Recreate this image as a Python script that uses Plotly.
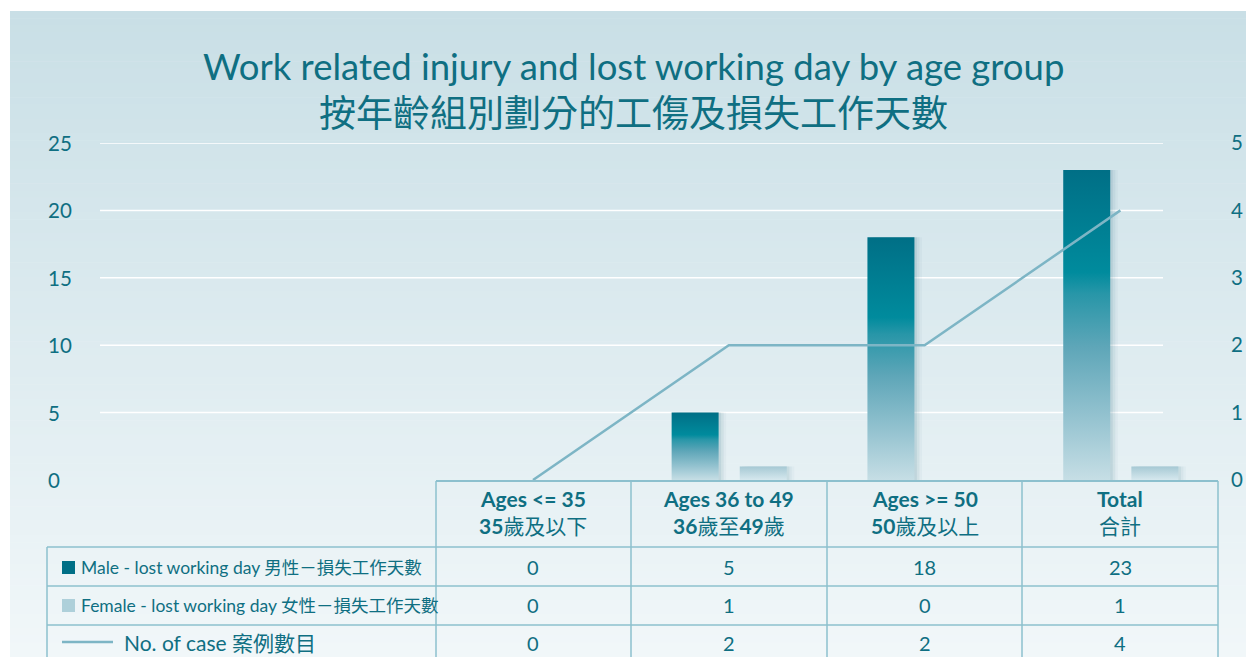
import plotly.graph_objects as go

# ---------------- data ----------------
categories_en = ["Ages <= 35", "Ages 36 to 49", "Ages >= 50", "Total"]
categories_zh = ["35歲及以下", "36歲至49歲", "50歲及以上", "合計"]
male_days = [0, 5, 18, 23]
female_days = [0, 1, 0, 1]
cases = [0, 2, 2, 4]
series_names = ["Male - lost working day 男性－損失工作天數",
                "Female - lost working day 女性－損失工作天數",
                "No. of case 案例數目"]
left_ticks = [0, 5, 10, 15, 20, 25]
right_ticks = [0, 1, 2, 3, 4, 5]
title_en = "Work related injury and lost working day by age group"
title_zh = "按年齡組別劃分的工傷及損失工作天數"

# ---------------- style ----------------
W, H = 1246, 657
PL, PR, PT, PB = 100, 1218, 143, 480       # plot area in pixels
SPACING = 195.8                            # px per category
X0PX = 533                                 # pixel of category 0
TEXT = "#0f6f82"
BORDER = "#8cc0ce"
LINE_C = "#7db5c5"
FONT = "Lato, 'Noto Sans CJK TC', sans-serif"

x_min = -(X0PX - PL) / SPACING
x_max = (PR - X0PX) / SPACING


def px_x(px):
    return (px - PL) / (PR - PL)


def px_y(py):
    return (PB - py) / (PB - PT)


def lerp(c1, c2, t):
    a = [int(c1[i:i + 2], 16) for i in (1, 3, 5)]
    b = [int(c2[i:i + 2], 16) for i in (1, 3, 5)]
    return "rgb(%d,%d,%d)" % tuple(round(a[k] + (b[k] - a[k]) * t) for k in range(3))


fig = go.Figure()

# bars drawn as filled polygons so they can carry a vertical gradient
male_scale = [[0, "#c6dee5"], [0.2, "#95c3d0"], [0.43, "#5ea6b8"], [0.6, "#2896a8"],
              [0.67, "#008b9d"], [1, "#006f86"]]
female_scale = [[0, "#d6e8ee"], [1, "#a6c9d4"]]
m_off = (-0.292, -0.052)
f_off = (0.056, 0.296)


def add_bars(values, off, scale, name, shadow):
    for i, v in enumerate(values):
        if v <= 0:
            continue
        a, b = i + off[0], i + off[1]
        for k, al in enumerate(shadow):
            d = (k + 1) * 2.5 / SPACING
            fig.add_trace(go.Scatter(x=[a + d, a + d, b + d, b + d], y=[0, v, v, 0], fill="toself",
                                     mode="none", fillcolor="rgba(40,110,130,%.2f)" % al,
                                     hoverinfo="skip", showlegend=False))
        fig.add_trace(go.Scatter(x=[a, a, b, b], y=[0, v, v, 0], fill="toself", mode="none",
                                 fillgradient=dict(type="vertical", colorscale=scale),
                                 name=name, showlegend=False))


add_bars(male_days, m_off, male_scale, series_names[0], [0.10, 0.07, 0.04])
add_bars(female_days, f_off, female_scale, series_names[1], [0.08, 0.05, 0.03])

# line on secondary axis
fig.add_trace(go.Scatter(x=list(range(len(cases))), y=cases, mode="lines", yaxis="y2",
                         line=dict(color=LINE_C, width=2.5), name=series_names[2],
                         showlegend=False))

shapes = []
# background gradient
N = 90
top_px, bot_px = 11, H
for k in range(N):
    y0 = top_px + (bot_px - top_px) * k / N
    y1 = top_px + (bot_px - top_px) * (k + 1) / N + 0.6
    shapes.append(dict(type="rect", xref="paper", yref="paper", layer="below",
                       x0=px_x(10), x1=px_x(W), y0=px_y(y1), y1=px_y(y0),
                       line=dict(width=0), fillcolor=lerp("#c9dfe6", "#f1f7f9", k / (N - 1))))
# gridlines
for t in left_ticks[1:]:
    shapes.append(dict(type="line", xref="paper", yref="y", layer="below",
                       x0=0, x1=px_x(1163), y0=t, y1=t, line=dict(color="white", width=1.5)))

# table
rows_px = [481, 547, 586, 625, 700]
cols_px = [436, 631, 827, 1022, 1218]
shapes.append(dict(type="line", xref="paper", yref="paper", x0=px_x(436), x1=px_x(1218),
                   y0=px_y(481), y1=px_y(481), line=dict(color=BORDER, width=2)))
for r in rows_px[1:4]:
    shapes.append(dict(type="line", xref="paper", yref="paper", x0=px_x(47), x1=px_x(1218),
                       y0=px_y(r), y1=px_y(r), line=dict(color=BORDER, width=1.5)))
for c in cols_px:
    shapes.append(dict(type="line", xref="paper", yref="paper", x0=px_x(c), x1=px_x(c),
                       y0=px_y(481), y1=px_y(700), line=dict(color=BORDER, width=1.5)))
shapes.append(dict(type="line", xref="paper", yref="paper", x0=px_x(47), x1=px_x(47),
                   y0=px_y(547), y1=px_y(700), line=dict(color=BORDER, width=1.5)))
# legend keys
shapes.append(dict(type="rect", xref="paper", yref="paper", x0=px_x(62), x1=px_x(75),
                   y0=px_y(574), y1=px_y(561), line=dict(width=0), fillcolor="#006f86"))
shapes.append(dict(type="rect", xref="paper", yref="paper", x0=px_x(62), x1=px_x(75),
                   y0=px_y(612), y1=px_y(599), line=dict(width=0), fillcolor="#aed0da"))
shapes.append(dict(type="line", xref="paper", yref="paper", x0=px_x(62), x1=px_x(113),
                   y0=px_y(642), y1=px_y(642), line=dict(color=LINE_C, width=2.5)))

ann = []


def add_text(text, xpx, ypx, size, family=FONT, xanchor="center"):
    ann.append(dict(text=text, x=px_x(xpx), y=px_y(ypx), xref="paper", yref="paper",
                    xanchor=xanchor, yanchor="middle", showarrow=False,
                    font=dict(family=family, size=size, color=TEXT)))


add_text(title_en, 633, 66, 36.5, family="Lato, sans-serif")
add_text(title_zh, 633, 111, 37, family="'Noto Sans CJK TC', sans-serif")


def esc(s):
    return s.replace("<", "&lt;").replace(">", "&gt;")


for i in range(len(categories_en)):
    cx = X0PX + i * SPACING
    zh_html = "".join("<b>%s</b>" % ch if ch.isdigit() else ch for ch in categories_zh[i])
    add_text("<b>%s</b>" % esc(categories_en[i]), cx, 498, 21)
    add_text(zh_html, cx, 525, 21)
    for vals, ypx in ((male_days, 567), (female_days, 605), (cases, 643)):
        add_text(str(vals[i]), cx, ypx, 20)

add_text(series_names[0], 79, 567, 17.5, xanchor="left")
add_text(series_names[1], 79, 605, 17.5, xanchor="left")
add_text(series_names[2], 122, 642, 21, xanchor="left")

# left-axis tick labels (left aligned, as in the reference), placed on the y scale
for t in left_ticks:
    ann.append(dict(text=str(t), x=px_x(46), y=t, xref="paper", yref="y", xanchor="left",
                    yanchor="middle", showarrow=False,
                    font=dict(family=FONT, size=20.5, color=TEXT)))

fig.update_layout(
    width=W, height=H,
    margin=dict(l=PL, r=W - PR, t=PT, b=H - PB, autoexpand=False),
    paper_bgcolor="white", plot_bgcolor="rgba(0,0,0,0)",
    showlegend=False,
    xaxis=dict(range=[x_min, x_max], showgrid=False, zeroline=False, showticklabels=False,
               automargin=False, fixedrange=True),
    yaxis=dict(range=[0, 25], tickvals=left_ticks, showgrid=False, zeroline=False,
               showticklabels=False, automargin=False),
    yaxis2=dict(range=[0, 5], tickvals=right_ticks, overlaying="y", side="right", showgrid=False,
                zeroline=False, automargin=False, ticklabelstandoff=12,
                tickfont=dict(family=FONT, size=20.5, color=TEXT)),
    shapes=shapes, annotations=ann,
)

fig.write_html("out.html", config={"displayModeBar": False},
               post_script="document.body.style.margin='0';document.body.style.padding='0';"
                           "document.body.style.overflow='hidden';")
